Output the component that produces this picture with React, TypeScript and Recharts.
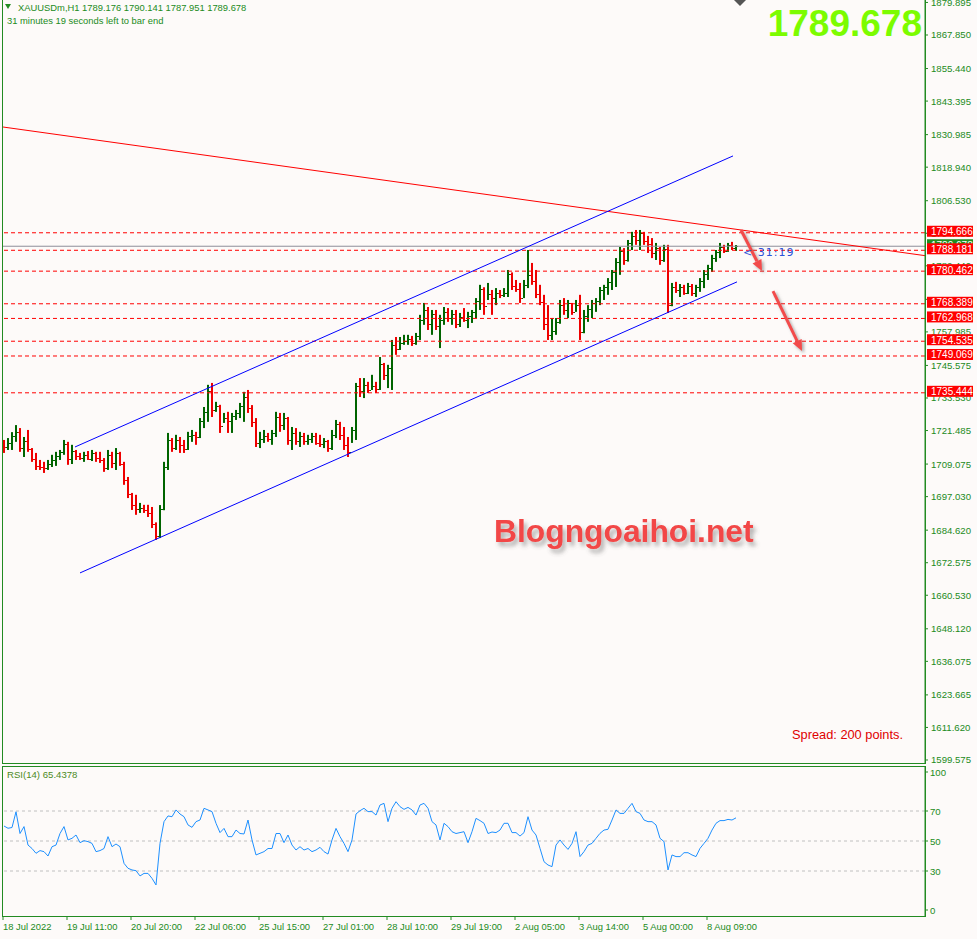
import React from "react";
import { ComposedChart, Bar, Line, XAxis, YAxis, ReferenceLine } from "recharts";

// XAUUSDm H1, one entry per bar, bar 0 = 18 Jul 2022 00:00
const highs = [
  1718.0, 1718.7, 1720.9, 1723.5, 1722.4, 1719.1, 1721.7, 1715.0, 1713.2, 1710.6,
  1709.9, 1710.6, 1712.5, 1713.6, 1714.3, 1718.0, 1717.3, 1716.2, 1714.3, 1713.2,
  1713.6, 1713.9, 1714.3, 1713.6, 1713.6, 1711.3, 1714.3, 1713.6, 1715.0, 1713.6,
  1709.9, 1704.3, 1698.4, 1697.7, 1694.7, 1694.0, 1694.0, 1693.2, 1687.5, 1693.9,
  1709.9, 1720.6, 1718.7, 1719.9, 1719.1, 1718.0, 1721.0, 1721.7, 1721.0, 1726.1,
  1730.2, 1738.4, 1739.1, 1732.1, 1731.0, 1728.0, 1728.4, 1728.0, 1729.1, 1731.7,
  1735.8, 1736.5, 1730.9, 1726.1, 1721.0, 1721.7, 1720.6, 1721.7, 1728.4, 1728.0,
  1728.0, 1726.5, 1722.8, 1722.4, 1721.0, 1720.6, 1719.9, 1720.6, 1720.6, 1719.9,
  1718.7, 1718.0, 1721.7, 1725.4, 1724.7, 1722.8, 1719.1, 1722.8, 1739.1, 1740.9,
  1740.9, 1739.5, 1742.1, 1739.5, 1748.7, 1746.5, 1745.8, 1755.0, 1756.1, 1756.1,
  1756.9, 1756.9, 1756.5, 1757.6, 1764.3, 1768.7, 1767.2, 1766.1, 1766.1, 1764.3,
  1767.2, 1766.8, 1766.1, 1766.1, 1765.0, 1766.8, 1765.4, 1766.1, 1770.5, 1775.4,
  1774.5, 1776.1, 1773.5, 1774.2, 1773.5, 1774.2, 1780.9, 1780.0, 1777.2, 1776.1,
  1777.2, 1788.3, 1783.5, 1780.9, 1775.4, 1771.7, 1767.9, 1763.1, 1763.1, 1769.8,
  1770.5, 1769.8, 1768.7, 1769.8, 1771.7, 1766.1, 1767.9, 1769.8, 1770.5, 1774.6,
  1775.4, 1777.9, 1780.9, 1785.3, 1789.4, 1789.0, 1792.0, 1795.0, 1795.7, 1795.7,
  1795.0, 1793.5, 1792.7, 1790.9, 1789.4, 1790.2, 1790.2, 1776.1, 1776.5, 1775.7,
  1775.4, 1776.1, 1775.7, 1775.4, 1777.9, 1780.9, 1782.8, 1786.5, 1788.3, 1790.9,
  1790.2, 1790.9, 1791.3, 1790.141,
];
const lows = [
  1713.2, 1714.3, 1714.3, 1717.3, 1713.6, 1711.7, 1713.6, 1709.9, 1706.9, 1706.9,
  1705.8, 1706.9, 1708.0, 1708.4, 1710.6, 1712.5, 1708.8, 1709.1, 1710.6, 1710.6,
  1709.9, 1710.6, 1710.2, 1709.9, 1709.5, 1706.2, 1706.9, 1707.6, 1706.9, 1708.4,
  1701.4, 1696.5, 1692.1, 1690.3, 1691.0, 1691.0, 1689.5, 1685.4, 1681.0, 1681.7,
  1692.0, 1706.9, 1713.6, 1714.3, 1713.2, 1713.2, 1714.3, 1717.3, 1716.2, 1718.7,
  1722.4, 1724.7, 1726.5, 1728.4, 1720.6, 1724.3, 1720.6, 1720.6, 1725.4, 1726.1,
  1724.7, 1728.0, 1722.8, 1715.4, 1715.0, 1716.9, 1717.3, 1716.2, 1719.1, 1721.0,
  1721.7, 1716.2, 1714.3, 1716.2, 1715.4, 1716.2, 1716.2, 1716.9, 1716.2, 1715.4,
  1715.0, 1713.6, 1714.3, 1718.7, 1718.0, 1714.3, 1711.7, 1716.9, 1718.0, 1733.9,
  1733.5, 1735.4, 1736.5, 1735.4, 1736.5, 1740.2, 1737.2, 1736.5, 1749.5, 1751.3,
  1753.2, 1753.2, 1752.8, 1753.2, 1755.0, 1760.6, 1758.7, 1756.9, 1758.7, 1752.0,
  1760.6, 1761.7, 1760.6, 1759.4, 1759.8, 1761.7, 1759.4, 1761.3, 1763.1, 1766.1,
  1764.3, 1769.8, 1764.3, 1767.9, 1770.5, 1770.9, 1770.9, 1773.5, 1772.8, 1768.7,
  1770.5, 1774.2, 1775.4, 1770.5, 1767.9, 1758.7, 1755.0, 1755.0, 1756.9, 1761.0,
  1764.3, 1763.1, 1764.3, 1765.4, 1755.0, 1757.5, 1761.7, 1763.1, 1765.4, 1767.9,
  1769.8, 1771.7, 1773.5, 1774.6, 1779.1, 1782.8, 1784.0, 1788.3, 1790.2, 1788.3,
  1790.2, 1787.2, 1785.3, 1784.6, 1782.8, 1783.9, 1765.0, 1767.5, 1772.4, 1770.9,
  1771.7, 1772.0, 1771.3, 1770.9, 1772.8, 1774.2, 1777.2, 1780.2, 1783.9, 1785.3,
  1787.2, 1787.6, 1788.3, 1787.951,
];
const closes = [
  1715.5, 1717.0, 1719.5, 1721.0, 1715.0, 1717.5, 1714.5, 1711.0, 1708.5, 1708.0,
  1707.5, 1709.0, 1710.5, 1712.0, 1713.5, 1716.5, 1711.0, 1714.0, 1712.0, 1711.5,
  1712.5, 1711.0, 1713.0, 1711.5, 1710.5, 1707.5, 1712.5, 1709.5, 1713.0, 1709.0,
  1703.0, 1698.0, 1694.0, 1692.5, 1693.0, 1692.0, 1691.0, 1687.0, 1682.5, 1692.5,
  1708.0, 1718.0, 1715.0, 1718.0, 1716.0, 1714.5, 1719.5, 1720.0, 1719.0, 1725.0,
  1728.5, 1736.0, 1729.0, 1730.5, 1723.0, 1726.0, 1725.0, 1727.0, 1728.0, 1730.5,
  1734.0, 1730.0, 1724.5, 1717.0, 1718.5, 1719.5, 1718.5, 1720.5, 1726.5, 1723.5,
  1726.0, 1718.0, 1720.5, 1717.5, 1719.5, 1717.5, 1718.5, 1719.5, 1717.0, 1716.5,
  1717.5, 1715.0, 1720.0, 1724.0, 1720.0, 1716.0, 1713.5, 1721.5, 1738.0, 1736.0,
  1738.5, 1736.5, 1738.0, 1737.0, 1746.0, 1742.0, 1744.5, 1753.0, 1751.5, 1754.0,
  1754.5, 1755.5, 1754.0, 1756.5, 1762.5, 1766.0, 1761.0, 1764.5, 1760.0, 1762.5,
  1765.5, 1763.0, 1764.5, 1761.0, 1763.5, 1762.5, 1764.0, 1765.5, 1769.5, 1774.0,
  1767.5, 1772.0, 1770.5, 1772.5, 1771.5, 1772.5, 1779.5, 1775.0, 1774.0, 1770.5,
  1775.5, 1779.0, 1777.0, 1772.0, 1769.0, 1761.0, 1757.0, 1758.5, 1761.5, 1768.0,
  1766.0, 1768.5, 1765.5, 1768.0, 1758.0, 1764.0, 1766.5, 1768.5, 1769.5, 1773.5,
  1774.5, 1776.5, 1780.0, 1784.0, 1788.0, 1784.5, 1791.0, 1793.5, 1792.0, 1794.5,
  1791.5, 1790.5, 1787.0, 1789.0, 1784.5, 1788.5, 1768.0, 1774.5, 1773.5, 1774.5,
  1772.5, 1775.0, 1772.5, 1774.5, 1777.0, 1779.5, 1781.5, 1785.5, 1787.5, 1789.5,
  1788.0, 1790.0, 1789.176, 1789.678,
];
const firstOpen = 1716.0;

const rsiValues = [
  60.0, 58.5, 59.0, 69.5, 55.0, 59.6, 47.3, 45.0, 41.8, 43.6,
  42.9, 40.0, 46.2, 47.3, 55.0, 59.6, 50.7, 51.8, 54.0, 48.9,
  50.2, 49.6, 48.4, 42.9, 43.6, 45.0, 52.9, 46.2, 48.0, 46.2,
  35.1, 31.8, 30.7, 30.2, 26.7, 28.4, 28.4, 25.1, 20.7, 48.4,
  62.9, 66.7, 66.2, 70.7, 68.0, 66.2, 60.7, 59.1, 62.9, 64.0,
  71.8, 70.7, 69.6, 61.8, 55.6, 58.4, 52.9, 52.9, 57.3, 55.0,
  54.7, 64.0, 50.7, 40.7, 41.8, 42.9, 45.0, 45.0, 55.0, 55.0,
  48.9, 54.0, 47.3, 44.0, 46.2, 44.0, 45.0, 42.9, 44.0, 45.8,
  42.9, 41.3, 50.7, 58.4, 52.9, 48.4, 42.9, 50.7, 68.0, 70.2,
  71.8, 69.6, 69.6, 67.3, 74.0, 75.1, 62.9, 71.8, 76.2, 72.9,
  71.1, 72.4, 70.7, 67.3, 74.0, 75.1, 71.8, 62.9, 60.7, 50.7,
  61.8, 59.6, 56.2, 55.0, 55.6, 56.2, 48.9, 56.2, 65.1, 63.6,
  61.8, 55.0, 56.0, 55.6, 57.3, 61.8, 61.8, 55.6, 55.6, 53.3,
  55.6, 66.2, 57.3, 54.0, 45.1, 36.2, 34.0, 32.9, 47.3, 50.7,
  47.3, 44.4, 48.4, 56.2, 39.6, 42.9, 47.3, 48.4, 51.8, 55.1,
  57.3, 57.8, 64.0, 70.7, 68.4, 68.4, 71.8, 75.1, 69.6, 68.4,
  64.0, 62.9, 62.9, 60.7, 51.8, 49.6, 30.7, 40.7, 39.6, 39.6,
  42.2, 42.2, 40.7, 39.6, 45.1, 48.4, 51.8, 57.3, 61.8, 63.6,
  63.6, 64.4, 64.0, 65.4378,
];

const priceTicks = [
  1879.895, 1867.85, 1855.44, 1843.395, 1830.985, 1818.94, 1806.53, 1794.485,
  1782.44, 1770.03, 1757.985, 1745.575, 1733.53, 1721.485, 1709.075, 1697.03,
  1684.62, 1672.575, 1660.53, 1648.12, 1636.075, 1623.665, 1611.62, 1599.575,
];
const levels = [1794.666, 1788.181, 1780.462, 1768.389, 1762.968, 1754.535, 1749.069, 1735.444];
const lastPrice = 1789.678;

const timeLabels = [
  "18 Jul 2022", "19 Jul 11:00", "20 Jul 20:00", "22 Jul 06:00", "25 Jul 15:00", "27 Jul 01:00",
  "28 Jul 10:00", "29 Jul 19:00", "2 Aug 05:00", "3 Aug 14:00", "5 Aug 00:00", "8 Aug 09:00",
];
const timeTickBars = [0, 16, 32, 48, 64, 80, 96, 112, 128, 144, 160, 176];

const rsiLevels = [70, 50, 30];
const rsiTicks = [100, 70, 50, 30, 0];

// drawn objects, anchored on (bar index, price)
const resistanceLine = [{ x: -0.25, y: 1833.8 }, { x: 230.25, y: 1786.2 }];
const channelTop = [{ x: 17.75, y: 1715.4 }, { x: 182.25, y: 1823.1 }];
const channelBottom = [{ x: 19, y: 1668.8 }, { x: 183.25, y: 1776.5 }];
const arrows = [
  [{ x: 184.25, y: 1795.7 }, { x: 189.5, y: 1780.5 }],
  [{ x: 192.25, y: 1773.1 }, { x: 199.5, y: 1750.9 }],
];

const xDomain = [-0.25, 230.25];
const priceDomain = [1598.46, 1880.8];

const GREEN = "#228b22";
const FONT = "'Liberation Sans', Arial, sans-serif";

const rows = closes.map((c, i) => ({
  i,
  open: i === 0 ? firstOpen : closes[i - 1],
  high: highs[i],
  low: lows[i],
  close: c,
  range: [lows[i], highs[i]],
  rsi: rsiValues[i],
}));

function OhlcBar(props: any) {
  const { x, y, width, height, payload } = props;
  const cx = Math.round(x + width / 2);
  const span = payload.high - payload.low || 1;
  const py = (v: number) => y + ((payload.high - v) / span) * height;
  const color = payload.close >= payload.open ? "#006400" : "#ee0000";
  const oy = Math.round(py(payload.open)) + 0.5;
  const cy = Math.round(py(payload.close)) + 0.5;
  return (
    <g>
      <rect x={cx - 1} y={y} width={2} height={Math.max(height, 1)} fill={color} />
      <line x1={cx - 2} x2={cx - 1} y1={oy} y2={oy} stroke={color} />
      <line x1={cx + 1} x2={cx + 2} y1={cy} y2={cy} stroke={color} />
    </g>
  );
}

function PriceTick(props: any) {
  const { x, y, payload } = props;
  const v = payload.value;
  if (levels.includes(v) || v === lastPrice) {
    const fill = v === lastPrice ? "#1f8f1f" : "#ff0000";
    return (
      <g>
        <rect x={x + 2} y={y - 7} width={46} height={11} fill={fill} />
        <text x={x + 6} y={y + 2.5} fill="#ffffff" fontSize={10} fontFamily={FONT}>
          {v.toFixed(3)}
        </text>
      </g>
    );
  }
  return (
    <g>
      <line x1={x} x2={x + 3} y1={y} y2={y} stroke={GREEN} />
      <text x={x + 6} y={y + 3.5} fill={GREEN} fontSize={9.6} fontFamily={FONT}>
        {v.toFixed(3)}
      </text>
    </g>
  );
}

function RsiTick(props: any) {
  const { x, y, payload } = props;
  const v = payload.value;
  const ty = v === 100 ? y + 6 : v === 0 ? y - 6 : y;
  return (
    <g>
      <line x1={x} x2={x + 3} y1={ty} y2={ty} stroke={GREEN} />
      <text x={x + 5} y={ty + 3.5} fill={GREEN} fontSize={9.6} fontFamily={FONT}>
        {v}
      </text>
    </g>
  );
}

function TimeTick(props: any) {
  const { x, y, payload } = props;
  const label = timeLabels[timeTickBars.indexOf(payload.value)];
  return (
    <g>
      <line x1={x - 1} x2={x - 1} y1={y} y2={y + 4} stroke={GREEN} />
      <text x={x - 1} y={y + 14} fill={GREEN} fontSize={9.4} fontFamily={FONT}>
        {label}
      </text>
    </g>
  );
}

function arrowShape(p: any) {
  const { x1, y1, x2, y2 } = p;
  const a = Math.atan2(y2 - y1, x2 - x1);
  const hl = 11;
  const hw = 5;
  const bx = x2 - hl * Math.cos(a);
  const by = y2 - hl * Math.sin(a);
  const nx = -Math.sin(a) * hw;
  const ny = Math.cos(a) * hw;
  return (
    <g>
      <defs>
        <filter id="arrowShade" x="-50%" y="-50%" width="200%" height="200%">
          <feDropShadow dx="2" dy="2" stdDeviation="1.5" floodColor="#666" floodOpacity="0.55" />
        </filter>
      </defs>
      <g filter="url(#arrowShade)">
        <line x1={x1} y1={y1} x2={bx} y2={by} stroke="#f24b4b" strokeWidth={3} />
        <polygon points={`${x2},${y2} ${bx + nx},${by + ny} ${bx - nx},${by - ny}`} fill="#f24b4b" />
      </g>
    </g>
  );
}

export default function App() {
  return (
    <div
      style={{
        position: "absolute",
        left: 0,
        top: 0,
        width: 977,
        height: 939,
        background: "#fdfaf9",
        overflow: "hidden",
        fontFamily: FONT,
      }}
    >
      <div style={{ position: "absolute", left: 2, top: -1, width: 924, height: 765, border: `1px solid ${GREEN}`, boxSizing: "border-box" }} />
      <div style={{ position: "absolute", left: 2, top: 766, width: 924, height: 151, border: `1px solid ${GREEN}`, boxSizing: "border-box" }} />

      <div style={{ position: "absolute", left: 0, top: 0 }}>
        <ComposedChart width={977} height={764} data={rows} margin={{ top: 0, right: 2, bottom: 1, left: 3 }}>
          <XAxis dataKey="i" type="number" domain={xDomain} hide allowDataOverflow />
          <YAxis
            orientation="right"
            type="number"
            width={50}
            domain={priceDomain}
            allowDataOverflow
            ticks={[...priceTicks, lastPrice, ...levels]}
            interval={0}
            tick={PriceTick}
            tickSize={0}
            tickMargin={0}
            tickLine={false}
            axisLine={{ stroke: GREEN }}
          />
          <Bar dataKey="range" barSize={4} shape={OhlcBar} isAnimationActive={false} />
          {levels.map((l) => (
            <ReferenceLine key={l} y={l} stroke="#ff0000" strokeDasharray="4 3" ifOverflow="hidden" />
          ))}
          <ReferenceLine y={lastPrice} stroke="#8e8e9a" ifOverflow="hidden" />
          <ReferenceLine segment={resistanceLine} stroke="#ff0000" ifOverflow="hidden" />
          <ReferenceLine segment={channelTop} stroke="#0000ff" ifOverflow="hidden" />
          <ReferenceLine segment={channelBottom} stroke="#0000ff" ifOverflow="hidden" />
          {arrows.map((seg, k) => (
            <ReferenceLine key={k} segment={seg} shape={arrowShape} ifOverflow="visible" />
          ))}
        </ComposedChart>
      </div>

      <div style={{ position: "absolute", left: 0, top: 766 }}>
        <ComposedChart width={977} height={173} data={rows} margin={{ top: 0, right: 2, bottom: 3, left: 3 }}>
          <XAxis
            dataKey="i"
            type="number"
            domain={xDomain}
            allowDataOverflow
            ticks={timeTickBars}
            interval={0}
            tick={TimeTick}
            tickLine={false}
            axisLine={false}
            tickSize={0}
            tickMargin={0}
            height={20}
          />
          <YAxis
            orientation="right"
            type="number"
            width={50}
            domain={[0, 100]}
            ticks={rsiTicks}
            interval={0}
            tick={RsiTick}
            tickSize={0}
            tickMargin={0}
            tickLine={false}
            axisLine={{ stroke: GREEN }}
          />
          {rsiLevels.map((l) => (
            <ReferenceLine key={l} y={l} stroke="#c0c0c0" strokeDasharray="3 3" />
          ))}
          <Line dataKey="rsi" type="linear" stroke="#1e90ff" strokeWidth={1} dot={false} isAnimationActive={false} />
        </ComposedChart>
      </div>

      <svg width={977} height={939} style={{ position: "absolute", left: 0, top: 0, pointerEvents: "none" }}>
        <defs>
          <filter id="wmShade" x="-10%" y="-30%" width="120%" height="160%">
            <feDropShadow dx="3" dy="4" stdDeviation="2" floodColor="#555" floodOpacity="0.45" />
          </filter>
        </defs>
        <polygon points="5,4 11,4 8,9" fill={GREEN} />
        <text x={18} y={10.5} fill={GREEN} fontSize={9.4} fontFamily={FONT}>
          XAUUSDm,H1  1789.176 1790.141 1787.951 1789.678
        </text>
        <text x={7} y={24} fill={GREEN} fontSize={9.4} fontFamily={FONT}>
          31 minutes 19 seconds left to bar end
        </text>
        <polygon points="734,0 746,0 740,6" fill="#555" />
        <text x={922} y={36} textAnchor="end" fill="#7cfc00" fontSize={37} fontWeight="bold" fontFamily={FONT}>
          1789.678
        </text>
        <text x={743} y={256} fill="#2a52d8" fontSize={11} fontFamily="'DejaVu Sans', sans-serif" letterSpacing={1}>
          {"< 31:19"}
        </text>
        <text x={494} y={542} fill="#f24646" fontSize={31.8} fontWeight="bold" fontFamily={FONT} filter="url(#wmShade)">
          Blogngoaihoi.net
        </text>
        <text x={792} y={739} fill="#e00000" fontSize={12.8} fontFamily={FONT}>
          Spread: 200 points.
        </text>
        <text x={7} y={778} fill="#4c8a1c" fontSize={9.6} fontFamily={FONT}>
          RSI(14) 65.4378
        </text>
      </svg>
    </div>
  );
}
